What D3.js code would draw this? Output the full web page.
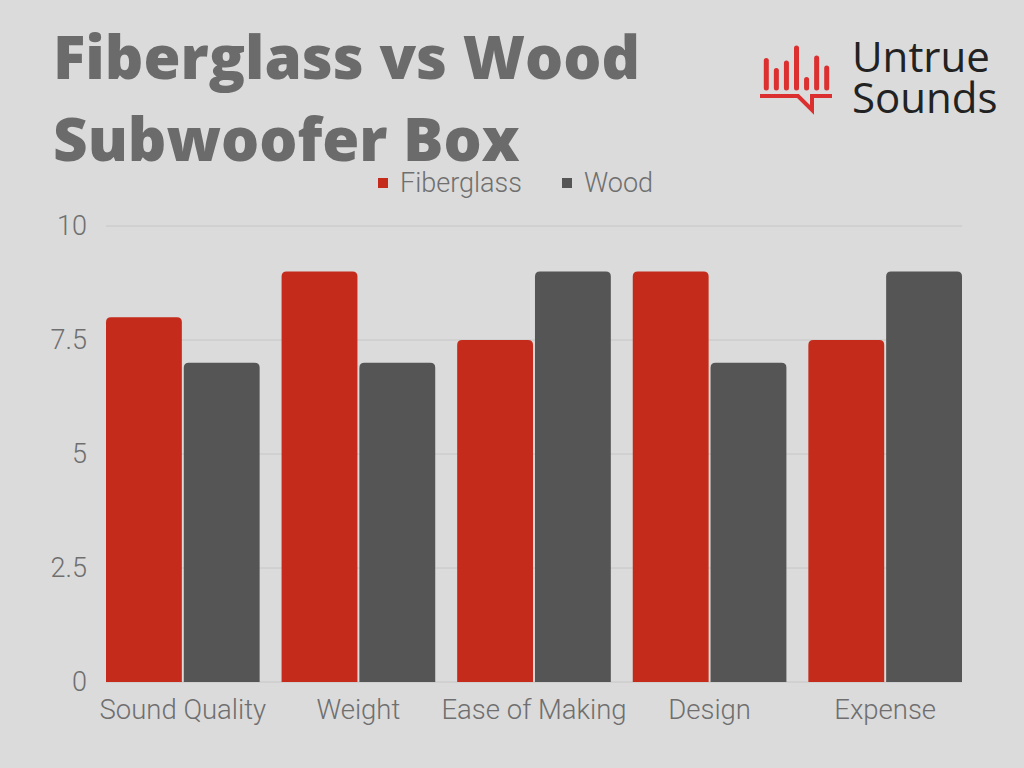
<!DOCTYPE html>
<html>
<head>
<meta charset="utf-8">
<script src="https://cdn.jsdelivr.net/npm/d3@7"></script>
<style>
  body { margin: 0; background: #dbdbdb; }
  svg { display: block; }
</style>
</head>
<body>
<svg id="chart" width="1024" height="768"></svg>
<script>
// data
const categories = ['Sound Quality', 'Weight', 'Ease of Making', 'Design', 'Expense'];
const seriesNames = ['Fiberglass', 'Wood'];
const fiberglass = [8, 9, 7.5, 9, 7.5];
const wood = [7, 7, 9, 7, 9];
const yTicks = [0, 2.5, 5, 7.5, 10];
const logoBars = [0.55, 0.35, 0.5, 0.8, 0.17, 0.6, 0.4];

const colors = { Fiberglass: '#c42b1a', Wood: '#555555' };
const svg = d3.select('#chart');

const rows = categories.map((c, i) => ({ cat: c, Fiberglass: fiberglass[i], Wood: wood[i] }));

const x0 = d3.scaleBand()
  .domain(categories)
  .range([106, 962])
  .paddingInner(0.125)
  .paddingOuter(0);

const x1 = d3.scaleBand()
  .domain(seriesNames)
  .range([0, x0.bandwidth()])
  .paddingInner(0.025);

const y = d3.scaleLinear().domain([0, 10]).range([682, 226]);

// gridlines
svg.append('g')
  .selectAll('line')
  .data(yTicks)
  .join('line')
  .attr('x1', 106)
  .attr('x2', 962)
  .attr('y1', d => y(d))
  .attr('y2', d => y(d))
  .attr('stroke', '#c6c6c6')
  .attr('stroke-width', 1);

// y tick labels
svg.append('g')
  .selectAll('text')
  .data(yTicks)
  .join('text')
  .attr('x', 87)
  .attr('y', d => y(d) + 9)
  .attr('text-anchor', 'end')
  .attr('font-family', 'Roboto')
  .attr('font-weight', 300)
  .attr('font-size', 27)
  .attr('fill', '#6f6f6f')
  .text(d => d);

// rounded-top bar path
function topRounded(x, yTop, w, h, r) {
  r = Math.min(r, h, w / 2);
  return `M${x},${yTop + h}V${yTop + r}Q${x},${yTop} ${x + r},${yTop}` +
    `H${x + w - r}Q${x + w},${yTop} ${x + w},${yTop + r}V${yTop + h}Z`;
}

const groups = svg.append('g')
  .selectAll('g')
  .data(rows)
  .join('g')
  .attr('transform', d => `translate(${x0(d.cat)},0)`);

groups.selectAll('path')
  .data(d => seriesNames.map(s => ({ key: s, value: d[s] })))
  .join('path')
  .attr('fill', d => colors[d.key])
  .attr('d', d => topRounded(x1(d.key), y(d.value), x1.bandwidth(), y(0) - y(d.value), 5));

// x labels
svg.append('g')
  .selectAll('text')
  .data(categories)
  .join('text')
  .attr('x', d => x0(d) + x0.bandwidth() / 2)
  .attr('y', 719)
  .attr('text-anchor', 'middle')
  .attr('font-family', 'Roboto')
  .attr('font-weight', 300)
  .attr('font-size', 27.5)
  .attr('fill', '#6f6f6f')
  .text(d => d);

// legend
const legendX = [378, 562];
const legend = svg.append('g')
  .selectAll('g')
  .data(seriesNames)
  .join('g')
  .attr('transform', (d, i) => `translate(${legendX[i]},0)`);

legend.append('rect')
  .attr('x', 0)
  .attr('y', 178)
  .attr('width', 10)
  .attr('height', 10)
  .attr('fill', d => colors[d]);

legend.append('text')
  .attr('x', 22)
  .attr('y', 192)
  .attr('font-family', 'Roboto')
  .attr('font-weight', 300)
  .attr('font-size', 27)
  .attr('fill', '#6f6f6f')
  .text(d => d);

// title
const titleLines = ['Fiberglass vs Wood', 'Subwoofer Box'];
svg.append('g')
  .selectAll('text')
  .data(titleLines)
  .join('text')
  .attr('x', 53)
  .attr('y', (d, i) => 79 + i * 82)
  .attr('font-family', 'Open Sans')
  .attr('font-weight', 800)
  .attr('font-size', 60)
  .attr('fill', '#6b6b6b')
  .text(d => d);

// logo
const logo = svg.append('g').attr('fill', '#dc2f2f').attr('stroke', '#dc2f2f');
const lx = d3.scaleBand().domain(d3.range(logoBars.length)).range([759, 834]).padding(0.45);
const ly = d3.scaleLinear().domain([0, 1]).range([88, 38]);
logo.selectAll('line')
  .data(logoBars)
  .join('line')
  .attr('x1', (d, i) => lx(i) + lx.bandwidth() / 2)
  .attr('x2', (d, i) => lx(i) + lx.bandwidth() / 2)
  .attr('y1', 88)
  .attr('y2', d => ly(d))
  .attr('stroke-width', 5)
  .attr('stroke-linecap', 'round');
logo.append('path')
  .attr('fill', 'none')
  .attr('stroke-width', 4)
  .attr('d', 'M760,96H798L812,110V96H832');

const brandLines = ['Untrue', 'Sounds'];
svg.append('g')
  .selectAll('text')
  .data(brandLines)
  .join('text')
  .attr('x', 852)
  .attr('y', (d, i) => 72 + i * 41)
  .attr('font-family', 'Open Sans')
  .attr('font-weight', 500)
  .attr('font-size', 42)
  .attr('fill', '#222')
  .text(d => d);
</script>
</body>
</html>
